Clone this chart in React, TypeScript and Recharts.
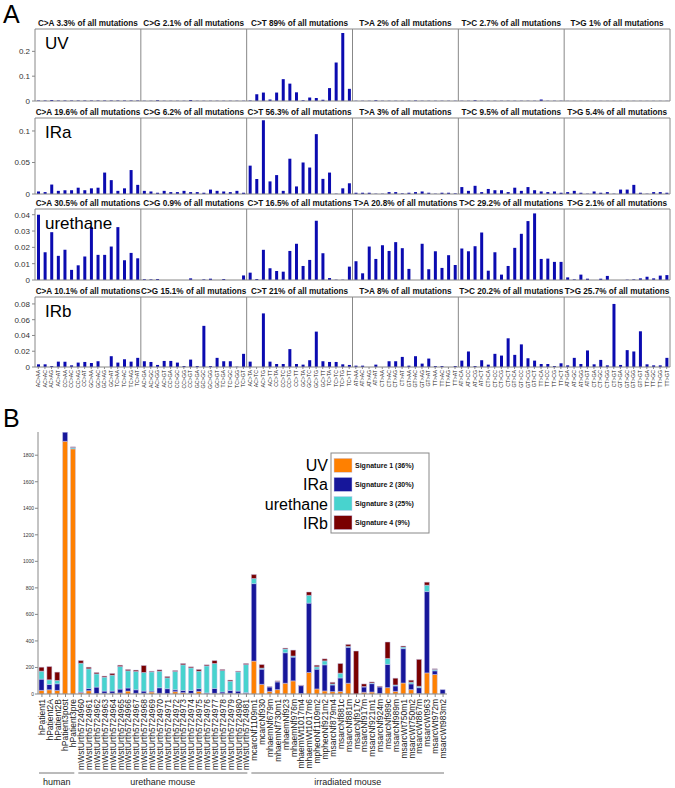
import React from 'react';
import { BarChart, Bar, XAxis, YAxis, ReferenceLine } from 'recharts';

const FONT = 'Liberation Sans, Arial, sans-serif';

// ---------- panel A data ----------
const bases = ['A', 'C', 'G', 'T'];
const mutationTypes = ['C>A', 'C>G', 'C>T', 'T>A', 'T>C', 'T>G'];

const uvPercent = ['3.3', '2.1', '89', '2', '2.7', '1'];
const iraPercent = ['19.6', '6.2', '56.3', '3', '9.5', '5.4'];
const urethanePercent = ['30.5', '0.9', '16.5', '20.8', '29.2', '2.1'];
const irbPercent = ['10.1', '15.1', '21', '8', '20.2', '25.7'];

// 16 contexts per mutation type, in the order C>A, C>G, C>T, T>A, T>C, T>G
const uvValues = [
  0.002, 0.002, 0.004, 0.002, 0.002, 0.002, 0.002, 0.002, 0.002, 0.002, 0.002, 0.002, 0.002, 0.002, 0.002, 0.002,
  0.001, 0.001, 0.003, 0.001, 0.001, 0.001, 0.001, 0.004, 0.001, 0.001, 0.001, 0.001, 0.001, 0.001, 0.001, 0.001,
  0.002, 0.027, 0.034, 0.006, 0.034, 0.088, 0.07, 0.035, 0.003, 0.014, 0.012, 0.005, 0.052, 0.155, 0.274, 0.049,
  0.001, 0.001, 0.001, 0.003, 0.001, 0.001, 0.001, 0.001, 0.001, 0.002, 0.001, 0.001, 0.001, 0.001, 0.001, 0.001,
  0.001, 0.001, 0.003, 0.001, 0.001, 0.001, 0.001, 0.001, 0.001, 0.001, 0.001, 0.001, 0.006, 0.001, 0.001, 0.001,
  0.0006, 0.0006, 0.0006, 0.0006, 0.0006, 0.0006, 0.0006, 0.0006, 0.0006, 0.0006, 0.0006, 0.0006, 0.0006, 0.0006, 0.0006, 0.0006,
];
const iraValues = [
  0.004, 0.003, 0.015, 0.005, 0.006, 0.006, 0.01, 0.006, 0.009, 0.01, 0.034, 0.022, 0.005, 0.009, 0.038, 0.0145,
  0.005, 0.004, 0.002, 0.005, 0.003, 0.003, 0.005, 0.003, 0.003, 0.002, 0.007, 0.005, 0.004, 0.003, 0.005, 0.002,
  0.045, 0.024, 0.117, 0.02, 0.03, 0.005, 0.056, 0.012, 0.05, 0.042, 0.095, 0.024, 0.034, 0.0005, 0.009, 0.017,
  0.002, 0.002, 0.002, 0.0005, 0.0005, 0.003, 0.003, 0.001, 0.002, 0.003, 0.004, 0.002, 0.0005, 0.002, 0.002, 0.001,
  0.011, 0.005, 0.013, 0.003, 0.008, 0.006, 0.006, 0.003, 0.01, 0.005, 0.011, 0.006, 0.004, 0.003, 0.004, 0.002,
  0.003, 0.005, 0.002, 0.0005, 0.004, 0.002, 0.003, 0.0005, 0.007, 0.007, 0.0145, 0.002, 0.0005, 0.003, 0.003, 0.002,
];
const urethaneValues = [
  0.04, 0.017, 0.0293, 0.0148, 0.0185, 0.0062, 0.009, 0.0144, 0.0324, 0.0154, 0.0154, 0.0205, 0.0324, 0.0121, 0.0166, 0.0133,
  0.0005, 0.0004, 0.0006, 0, 0, 0, 0, 0.001, 0, 0.0004, 0.0008, 0, 0.0006, 0, 0, 0.0028,
  0.0045, 0.0006, 0.0185, 0.0072, 0.0055, 0.0051, 0.0178, 0.0222, 0.0086, 0.0123, 0.0363, 0.0164, 0.0012, 0.0002, 0.0002, 0.0082,
  0.0115, 0.0041, 0.0205, 0.0129, 0.0213, 0.0178, 0.0232, 0.0195, 0.0068, 0, 0.0222, 0.0066, 0.0176, 0.0074, 0.0152, 0.0092,
  0.0193, 0.0176, 0.0207, 0.0291, 0.0057, 0.017, 0.0033, 0.0086, 0.0197, 0.0283, 0.0361, 0.0408, 0.0129, 0.0131, 0.0111, 0.0111,
  0.0016, 0.0004, 0.0033, 0.0008, 0, 0.0008, 0.0025, 0, 0, 0.0002, 0.0004, 0.001, 0.002, 0.001, 0.0027, 0.003,
];
const irbValues = [
  0.0034, 0.0034, 0.0013, 0.0068, 0.0068, 0.0021, 0.0056, 0.0064, 0.0051, 0.0073, 0, 0.0137, 0.0056, 0.0098, 0.0068, 0.0116,
  0.0073, 0.0064, 0.0026, 0.0077, 0.0077, 0.0056, 0.0013, 0.0094, 0.0013, 0.0522, 0.0013, 0.0116, 0.0073, 0.0073, 0.0004, 0.0167,
  0.0068, 0, 0.068, 0.0068, 0.0038, 0.0038, 0.0227, 0.0038, 0.003, 0.0086, 0.0449, 0.0073, 0.0064, 0.0064, 0.0034, 0.0026,
  0.0017, 0.0017, 0, 0.003, 0, 0.0073, 0.0073, 0.0128, 0.0017, 0.0137, 0.0043, 0.0107, 0.0013, 0.0013, 0, 0.0013,
  0.0081, 0.0197, 0.0013, 0.0086, 0.003, 0.0167, 0.0145, 0.0364, 0.0154, 0.0287, 0.0111, 0.0081, 0.0038, 0.0038, 0.0013, 0.0047,
  0.0021, 0.0116, 0.0038, 0.021, 0.0034, 0.009, 0.0021, 0.08, 0.0026, 0.0214, 0.0197, 0.0453, 0.0034, 0.0021, 0.0021, 0.0116,
];

// "AC>AA" = A[C>A]A
const contextLabels = mutationTypes.flatMap((m) =>
  bases.flatMap((b5) => bases.map((b3) => `${b5}${m[0]}>${m[2]}${b3}`))
);

// ---------- panel B data ----------
const sampleNames = [
  'hPatient1', 'hPatient2A', 'hPatient2B', 'hPatient3post', 'hPatient3pre',
  'mWstUrth5724960', 'mWstUrth5724961', 'mWstUrth5724962', 'mWstUrth5724963', 'mWstUrth5724964',
  'mWstUrth5724965', 'mWstUrth5724966', 'mWstUrth5724967', 'mWstUrth5724968', 'mWstUrth5724969',
  'mWstUrth5724970', 'mWstUrth5724971', 'mWstUrth5724972', 'mWstUrth5724973', 'mWstUrth5724974',
  'mWstUrth5724975', 'mWstUrth5724976', 'mWstUrth5724977', 'mWstUrth5724978', 'mWstUrth5724979',
  'mWstUrth5724980', 'mWstUrth5724981',
  'mcarcNf1109m1', 'mcarcNf930', 'mhaemNf679m', 'mhaemNf730m1', 'mhaemNf923', 'mhaemNf976m',
  'mhaemWt1017m4', 'mhaemWt1017m6', 'mpheoNf1109m2', 'mpheoNf921m2', 'msarcNf879m4', 'msarcNf881c',
  'msarcNf881m', 'msarcNf917c', 'msarcNf917m', 'msarcNf921m1', 'msarcNf924m', 'msarcNf989c',
  'msarcNf989m', 'msarcWt750m1', 'msarcWt750m2', 'msarcWt867m', 'msarcWt963', 'msarcWt972m', 'msarcWt983m2',
];
const signature1 = [
  27, 32, 27, 1905, 1848,
  10, 25, 3, 5, 5, 8, 22, 5, 5, 15, 5, 3, 18, 10, 5, 20, 3, 5, 3, 5, 3, 5,
  248, 73, 20, 33, 81, 99, 3, 162, 38, 23, 18, 20, 81, 0, 13, 15, 3, 48, 20, 83, 33, 3, 159, 147, 0,
];
const signature2 = [
  85, 40, 50, 68, 0,
  5, 17, 49, 17, 17, 29, 23, 27, 17, 7, 42, 37, 14, 17, 22, 20, 5, 37, 12, 22, 19, 5,
  584, 114, 33, 58, 230, 179, 60, 523, 149, 197, 50, 101, 271, 0, 40, 63, 50, 175, 41, 259, 43, 45, 613, 28, 33,
];
const signature3 = [
  60, 35, 25, 0, 10,
  217, 148, 100, 105, 120, 170, 130, 138, 140, 145, 125, 82, 138, 193, 170, 132, 204, 188, 162, 70, 145, 212,
  38, 8, 0, 3, 28, 8, 0, 59, 18, 30, 8, 36, 7, 0, 3, 5, 0, 45, 7, 12, 13, 10, 48, 10, 0,
];
const signature4 = [
  30, 100, 63, 0, 5,
  20, 12, 10, 8, 13, 10, 10, 10, 53, 5, 10, 10, 7, 10, 8, 13, 8, 22, 8, 8, 5, 8,
  30, 27, 3, 5, 7, 45, 3, 25, 12, 15, 12, 73, 15, 324, 20, 8, 5, 124, 51, 8, 15, 203, 23, 5, 0,
];
const signatureKeys = ['sig1', 'sig2', 'sig3', 'sig4'];
const signatureLabels = ['Signature 1 (36%)', 'Signature 2 (30%)', 'Signature 3 (25%)', 'Signature 4 (9%)'];
const signatureAliases = ['UV', 'IRa', 'urethane', 'IRb'];
const signatureColors = ['#ff8000', '#16169a', '#48d3ce', '#7a0000'];
const sampleGroups = [
  { label: 'human', start: 0, count: 5 },
  { label: 'urethane mouse', start: 5, count: 22 },
  { label: 'irradiated mouse', start: 27, count: 25 },
];

const exposures = sampleNames.map((name, i) => ({
  name,
  sig1: signature1[i],
  sig2: signature2[i],
  sig3: signature3[i],
  sig4: signature4[i],
}));

// ---------- panel A ----------
const ContextTick = ({ x, y, payload }: any) => {
  const idx = Math.floor(payload.value);
  return (
    <text
      x={x}
      y={y}
      transform={`rotate(-90, ${x}, ${y})`}
      textAnchor="end"
      dy="0.35em"
      fontSize={5.2}
      fill="#222"
      fontFamily={FONT}
    >
      {contextLabels[idx]}
    </text>
  );
};

type RowProps = {
  values: number[];
  percents: string[];
  name: string;
  top: number;
  boxH: number;
  yMax: number;
  yTicks: number[];
  showLabels?: boolean;
};

const SignatureRow = ({ values, percents, name, top, boxH, yMax, yTicks, showLabels }: RowProps) => {
  const data = values.map((v, i) => ({ pos: i + 0.5, value: v }));
  const bottomH = showLabels ? 17 : 1;
  const bottomPad = 6;
  return (
    <>
      <div style={{ position: 'absolute', left: 0, top: top - 13 }}>
        <BarChart
          width={675}
          height={13 + boxH + bottomH + bottomPad}
          data={data}
          margin={{ top: 0, right: 5, bottom: bottomPad, left: 0 }}
        >
          <XAxis
            xAxisId="top"
            orientation="top"
            dataKey="pos"
            type="number"
            domain={[0, 96]}
            allowDataOverflow
            ticks={[8, 24, 40, 56, 72, 88]}
            interval={0}
            height={13}
            tickLine={false}
            tickSize={0}
            tickMargin={3}
            stroke="#888"
            tickFormatter={(v: number) => {
              const k = Math.floor(v / 16);
              return `${mutationTypes[k]} ${percents[k]}% of all mutations`;
            }}
            tick={{ fontSize: 8.2, fontWeight: 'bold', fill: '#111', fontFamily: FONT }}
          />
          <XAxis
            dataKey="pos"
            type="number"
            domain={[0, 96]}
            allowDataOverflow
            ticks={data.map((d) => d.pos)}
            interval={0}
            height={bottomH}
            tickSize={showLabels ? 2 : 0}
            tickMargin={1}
            stroke="#888"
            tick={showLabels ? <ContextTick /> : false}
          />
          <YAxis
            width={35}
            domain={[0, yMax]}
            allowDataOverflow
            ticks={yTicks}
            interval={0}
            tickSize={3}
            tickMargin={2}
            stroke="#888"
            tick={{ fontSize: 8, fill: '#333', fontFamily: FONT }}
          />
          {[16, 32, 48, 64, 80, 96].map((x) => (
            <ReferenceLine key={x} x={x} stroke="#888" />
          ))}
          <Bar dataKey="value" fill="#0b0bb0" barSize={3} isAnimationActive={false} />
        </BarChart>
      </div>
      <div
        style={{
          position: 'absolute',
          left: 45,
          top: top + 6,
          fontSize: 17,
          lineHeight: 1,
          fontFamily: FONT,
          color: '#000',
        }}
      >
        {name}
      </div>
    </>
  );
};

// ---------- panel B ----------
const B_PLOT_W = 409;

const SampleTick = ({ x, y, payload }: any) => (
  <text
    x={x}
    y={y}
    transform={`rotate(-90, ${x}, ${y})`}
    textAnchor="end"
    dy="0.35em"
    fontSize={8.5}
    fill="#222"
    fontFamily={FONT}
  >
    {payload.value}
  </text>
);

const GroupTick = ({ x, y, payload }: any) => {
  const g = sampleGroups.find((s) => sampleNames[s.start] === payload.value);
  if (!g) return null;
  const band = B_PLOT_W / sampleNames.length;
  const left = x - band / 2 + 1;
  const right = left + g.count * band - 4;
  return (
    <g>
      <line x1={left} x2={right} y1={y + 7} y2={y + 7} stroke="#777" strokeWidth={1} />
      <text x={(left + right) / 2} y={y + 19} textAnchor="middle" fontSize={9} fill="#222" fontFamily={FONT}>
        {g.label}
      </text>
    </g>
  );
};

const yTicksB = [0, 200, 400, 600, 800, 1000, 1200, 1400, 1600, 1800];

const SignatureLegend = () => (
  <svg width={200} height={100} style={{ position: 'absolute', left: 240, top: 445, overflow: 'visible' }}>
    <rect x={91} y={8} width={98} height={80} fill="#fff" stroke="#888" strokeWidth={1} />
    {signatureLabels.map((lab, i) => {
      const cy = 20.3 + i * 19.1;
      return (
        <g key={lab}>
          <rect x={94} y={cy - 7} width={18} height={14} fill={signatureColors[i]} stroke="#c9c9ee" strokeWidth={0.5} />
          <text x={115} y={cy + 2.5} fontSize={7} fontWeight="bold" fill="#111" fontFamily={FONT}>
            {lab}
          </text>
          <text x={88} y={cy + 6} fontSize={16} textAnchor="end" fill="#000" fontFamily={FONT}>
            {signatureAliases[i]}
          </text>
        </g>
      );
    })}
  </svg>
);

const ExposureChart = () => (
  <div style={{ position: 'absolute', left: 0, top: 420 }}>
    <BarChart width={460} height={368} data={exposures} margin={{ top: 12, right: 13, bottom: 0, left: 0 }}>
      <XAxis
        xAxisId="top"
        orientation="top"
        dataKey="name"
        height={0}
        interval={0}
        tickSize={3}
        stroke="#888"
        tickFormatter={() => ''}
      />
      <XAxis
        dataKey="name"
        height={72}
        interval={0}
        tickSize={3}
        tickMargin={2}
        stroke="#888"
        tick={<SampleTick />}
      />
      <XAxis
        xAxisId="grp"
        dataKey="name"
        height={22}
        interval={0}
        ticks={sampleGroups.map((g) => sampleNames[g.start])}
        axisLine={false}
        tickLine={false}
        tickSize={0}
        tickMargin={0}
        tick={<GroupTick />}
      />
      <YAxis
        width={38}
        domain={[0, 1975]}
        allowDataOverflow
        ticks={yTicksB}
        interval={0}
        tickSize={3}
        tickMargin={1}
        stroke="#888"
        tick={{ fontSize: 5, fill: '#333', fontFamily: FONT }}
      />
      <YAxis
        yAxisId="right"
        orientation="right"
        width={0}
        domain={[0, 1975]}
        allowDataOverflow
        ticks={yTicksB}
        interval={0}
        tickSize={3}
        stroke="#888"
        tickFormatter={() => ''}
      />
      {signatureKeys.map((k, i) => (
        <Bar
          key={k}
          dataKey={k}
          stackId="exp"
          fill={signatureColors[i]}
          stroke="#c9c9ee"
          strokeWidth={0.5}
          barSize={5}
          isAnimationActive={false}
        />
      ))}
    </BarChart>
  </div>
);

export default function App() {
  return (
    <div
      style={{
        position: 'absolute',
        left: 0,
        top: 0,
        width: 675,
        height: 788,
        background: '#fff',
        fontFamily: FONT,
        overflow: 'hidden',
      }}
    >
      <div style={{ position: 'absolute', left: 3, top: 2, fontSize: 25, lineHeight: 1 }}>A</div>
      <SignatureRow values={uvValues} percents={uvPercent} name="UV" top={29} boxH={72} yMax={0.29} yTicks={[0, 0.1, 0.2]} />
      <SignatureRow values={iraValues} percents={iraPercent} name="IRa" top={118} boxH={76} yMax={0.1206} yTicks={[0, 0.05, 0.1]} />
      <SignatureRow
        values={urethaneValues}
        percents={urethanePercent}
        name="urethane"
        top={209}
        boxH={71}
        yMax={0.0435}
        yTicks={[0, 0.01, 0.02, 0.03, 0.04]}
      />
      <SignatureRow
        values={irbValues}
        percents={irbPercent}
        name="IRb"
        top={297}
        boxH={70}
        yMax={0.0888}
        yTicks={[0, 0.02, 0.04, 0.06, 0.08]}
        showLabels
      />
      <div style={{ position: 'absolute', left: 3, top: 406, fontSize: 25, lineHeight: 1 }}>B</div>
      <ExposureChart />
      <SignatureLegend />
    </div>
  );
}
